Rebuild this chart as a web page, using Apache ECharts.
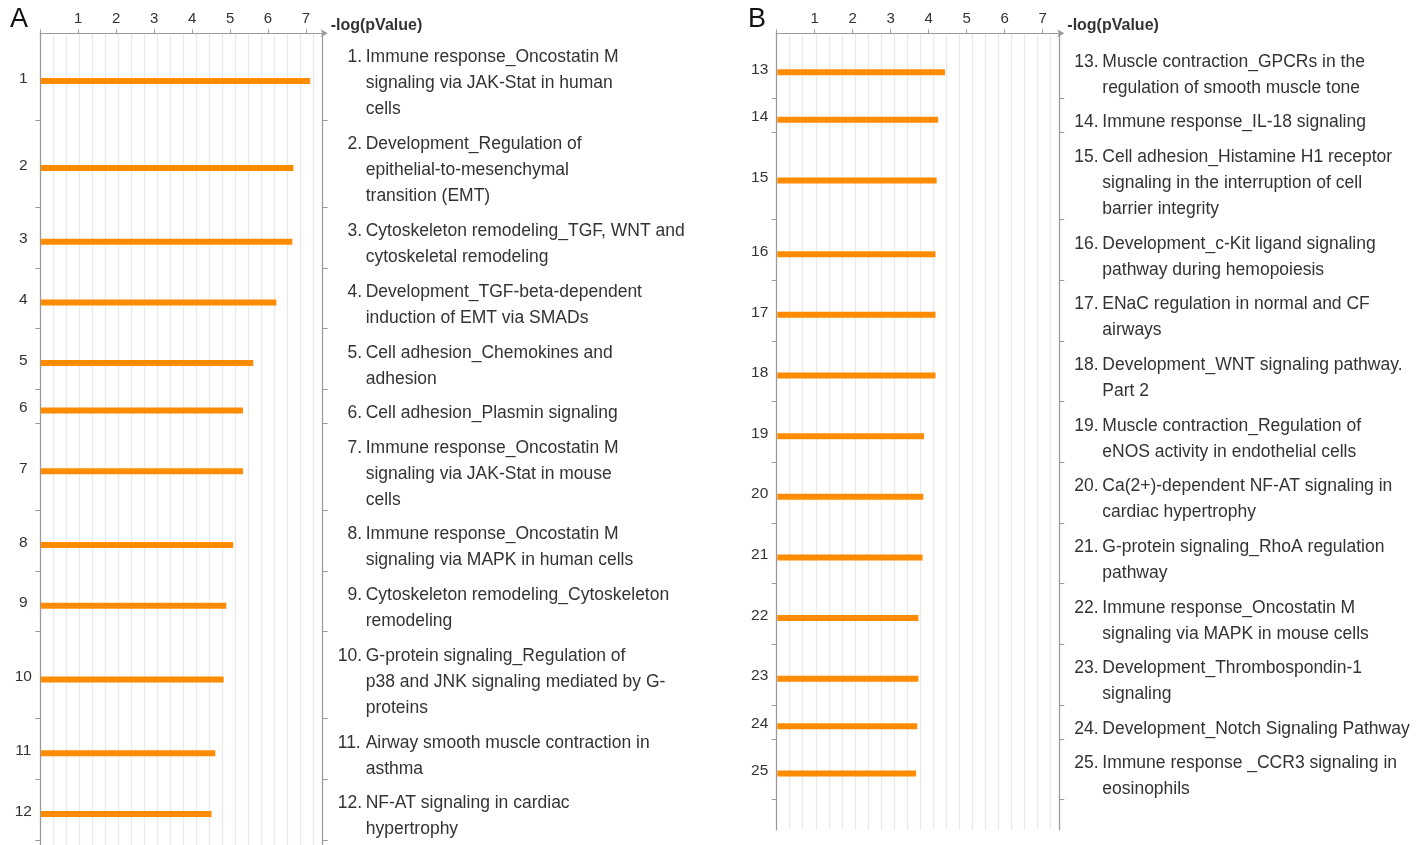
<!DOCTYPE html>
<html><head><meta charset="utf-8">
<script src="https://cdn.jsdelivr.net/npm/echarts@6/dist/echarts.min.js"></script>
<style>html,body{margin:0;padding:0;background:#fff}#c{width:1420px;height:845px}</style>
</head><body><div id="c"></div>
<script>
// ---------- data ----------
const xTickValues = [0, 1, 2, 3, 4, 5, 6, 7];
const xLabelValues = [1, 2, 3, 4, 5, 6, 7];
const xAxisName = '-log(pValue)';

const idsA = [1, 2, 3, 4, 5, 6, 7, 8, 9, 10, 11, 12];
const namesA = [
  'Immune response_Oncostatin M\nsignaling via JAK-Stat in human\ncells',
  'Development_Regulation of\nepithelial-to-mesenchymal\ntransition (EMT)',
  'Cytoskeleton remodeling_TGF, WNT and\ncytoskeletal remodeling',
  'Development_TGF-beta-dependent\ninduction of EMT via SMADs',
  'Cell adhesion_Chemokines and\nadhesion',
  'Cell adhesion_Plasmin signaling',
  'Immune response_Oncostatin M\nsignaling via JAK-Stat in mouse\ncells',
  'Immune response_Oncostatin M\nsignaling via MAPK in human cells',
  'Cytoskeleton remodeling_Cytoskeleton\nremodeling',
  'G-protein signaling_Regulation of\np38 and JNK signaling mediated by G-\nproteins',
  'Airway smooth muscle contraction in\nasthma',
  'NF-AT signaling in cardiac\nhypertrophy'
];
const valuesA = [7.11, 6.67, 6.64, 6.22, 5.61, 5.34, 5.34, 5.08, 4.90, 4.83, 4.61, 4.51];

const idsB = [13, 14, 15, 16, 17, 18, 19, 20, 21, 22, 23, 24, 25];
const namesB = [
  'Muscle contraction_GPCRs in the\nregulation of smooth muscle tone',
  'Immune response_IL-18 signaling',
  'Cell adhesion_Histamine H1 receptor\nsignaling in the interruption of cell\nbarrier integrity',
  'Development_c-Kit ligand signaling\npathway during hemopoiesis',
  'ENaC regulation in normal and CF\nairways',
  'Development_WNT signaling pathway.\nPart 2',
  'Muscle contraction_Regulation of\neNOS activity in endothelial cells',
  'Ca(2+)-dependent NF-AT signaling in\ncardiac hypertrophy',
  'G-protein signaling_RhoA regulation\npathway',
  'Immune response_Oncostatin M\nsignaling via MAPK in mouse cells',
  'Development_Thrombospondin-1\nsignaling',
  'Development_Notch Signaling Pathway',
  'Immune response _CCR3 signaling in\neosinophils'
];
const valuesB = [4.43, 4.25, 4.21, 4.18, 4.18, 4.18, 3.88, 3.86, 3.84, 3.73, 3.73, 3.70, 3.67];

// ---------- styling ----------
const FONT = '"Liberation Sans", Arial, Helvetica, sans-serif';
const TXT = '#333333';
const AXIS = '#9a9a9a';
const GRIDC = '#e9e9e9';
const BAR = '#ff8c00';
const FS = 17.5;
const ROW_PAD = 0.3;

function layout(names, start) {
  const bounds = [], centers = [];
  let y = start;
  names.forEach(n => {
    const h = n.split('\n').length + ROW_PAD;
    centers.push(y + h / 2);
    y += h;
    bounds.push(y);
  });
  return { bounds, centers };
}
function nearest(arr, v) {
  let bi = 0, bd = Infinity;
  arr.forEach((a, i) => { const d = Math.abs(a - v); if (d < bd) { bd = d; bi = i; } });
  return bi;
}
function richLabel(id, name) {
  const lines = name.split('\n');
  const pad = id < 10 ? '{pad|}' : '';
  let s = pad + '{' + (id < 10 ? 'n1' : 'n2') + '|' + id + '.}{t|' + lines[0] + '}';
  for (let i = 1; i < lines.length; i++) s += '\n{ind|}{t|' + lines[i] + '}';
  return s;
}

const grids = [], xAxes = [], yAxes = [], series = [], graphics = [];

function panel(opts) {
  const { ids, names, values, left, width, height, start, yMax, letter } = opts;
  const gi = grids.length;
  grids.push({ left, top: 33.3, width, height, outerBoundsMode: 'none', containLabel: false });
  const { bounds, centers } = layout(names, start);
  const numPos = centers.map(c => c + 0.06);
  const barPos = centers.map(c => c + 0.16);
  const textPos = centers.map(c => c + 0.26);
  const tickVals = bounds;

  const xMain = xAxes.length;
  xAxes.push({
    type: 'value', gridIndex: gi, position: 'top', min: 0, max: 7.44, interval: 1,
    axisLine: { show: true, onZero: false, lineStyle: { color: AXIS, width: 1.2 }, symbol: ['none', 'arrow'], symbolSize: [6, 7], symbolOffset: [0, 5] },
    axisTick: { show: true, length: 4, inside: false, customValues: xTickValues, lineStyle: { color: AXIS } },
    axisLabel: { show: true, customValues: xLabelValues, margin: 7, fontSize: 15, color: TXT, fontFamily: FONT },
    splitLine: { show: false },
    name: xAxisName, nameLocation: 'end', nameGap: 8,
    nameTextStyle: { fontSize: 16, fontWeight: 'bold', color: TXT, fontFamily: FONT, verticalAlign: 'bottom', padding: [0, 0, 0, 0] }
  });
  xAxes.push({
    type: 'value', gridIndex: gi, position: 'bottom', min: 0, max: 21.7, interval: 1,
    axisLine: { show: false, onZero: false }, axisTick: { show: false }, axisLabel: { show: false },
    splitLine: { show: true, lineStyle: { color: GRIDC, width: 1.3 } }
  });
  const yLeft = yAxes.length;
  yAxes.push({
    type: 'value', gridIndex: gi, position: 'left', inverse: true, min: 0, max: yMax,
    axisLine: { show: true, onZero: false, lineStyle: { color: AXIS, width: 1.2 } },
    axisTick: { show: true, length: 5, customValues: tickVals, lineStyle: { color: AXIS } },
    axisLabel: {
      show: true, customValues: numPos, margin: 17, align: 'center', fontSize: 15.5, color: TXT, fontFamily: FONT,
      formatter: v => String(ids[nearest(numPos, v)])
    },
    splitLine: { show: false }
  });
  yAxes.push({
    type: 'value', gridIndex: gi, position: 'right', inverse: true, min: 0, max: yMax,
    axisLine: { show: true, onZero: false, lineStyle: { color: AXIS, width: 1.2 } },
    axisTick: { show: true, length: 5, customValues: tickVals, lineStyle: { color: AXIS } },
    axisLabel: {
      show: true, customValues: textPos, margin: 15, align: 'left', color: TXT, fontFamily: FONT, fontSize: FS,
      formatter: v => { const i = nearest(textPos, v); return richLabel(ids[i], names[i]); },
      rich: {
        pad: { width: 0.556 * FS, lineHeight: 26, fontSize: FS },
        n1: { width: 28 - 0.556 * FS, align: 'left', fontSize: FS, lineHeight: 26, color: TXT, fontFamily: FONT },
        n2: { width: 28, align: 'left', fontSize: FS, lineHeight: 26, color: TXT, fontFamily: FONT },
        ind: { width: 28, lineHeight: 26, fontSize: FS },
        t: { fontSize: FS, lineHeight: 26, color: TXT, fontFamily: FONT }
      }
    },
    splitLine: { show: false }
  });
  series.push({
    type: 'custom', xAxisIndex: xMain, yAxisIndex: yLeft,
    data: values.map((v, i) => [v, barPos[i]]),
    encode: { x: 0, y: 1 },
    renderItem: (params, api) => {
      const v = api.value(0), y = api.value(1);
      const a = api.coord([0, y]), b = api.coord([v, y]);
      return { type: 'rect', shape: { x: a[0] + 0.6, y: a[1] - 3, width: b[0] - a[0] - 0.6, height: 6 }, style: { fill: BAR } };
    },
    silent: true, animation: false
  });
  graphics.push({ type: 'text', left: letter.x, top: 6, style: { text: letter.t, fontSize: 27, fill: '#111', fontFamily: FONT } });
}

panel({ ids: idsA, names: namesA, values: valuesA, left: 40.3, width: 282.4, height: 811.7, start: 0, yMax: 30.79, letter: { t: 'A', x: 10 } });
panel({ ids: idsB, names: namesB, values: valuesB, left: 776.7, width: 282.6, height: 796.7, start: 0.17, yMax: 30.22, letter: { t: 'B', x: 748 } });

const chart = echarts.init(document.getElementById('c'), null, { renderer: 'canvas' });
chart.setOption({
  backgroundColor: '#ffffff',
  animation: false,
  grid: grids, xAxis: xAxes, yAxis: yAxes, series, graphic: graphics
});
</script>
</body></html>
